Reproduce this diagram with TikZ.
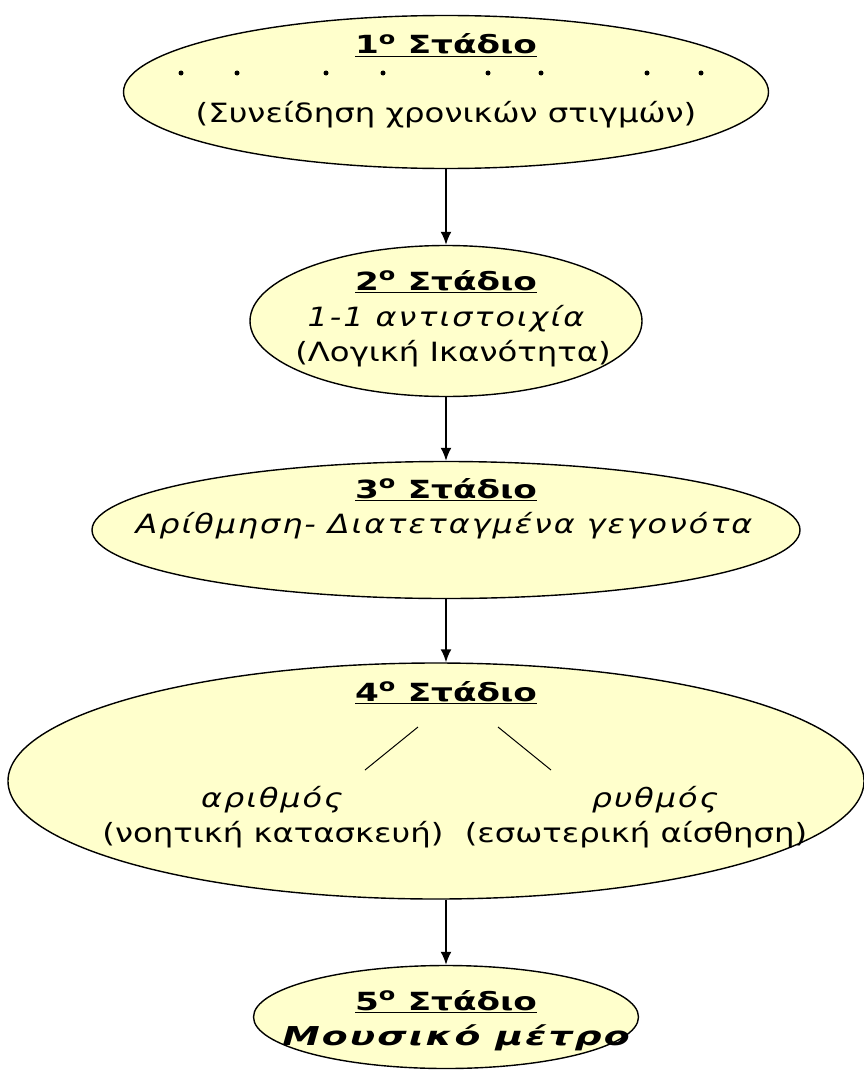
\documentclass[tikz,border=0pt]{standalone}
\usepackage{fontspec}
\setmainfont{DejaVu Sans}
\usetikzlibrary{arrows.meta,shapes.geometric}
\begin{document}
\begin{tikzpicture}[x=1pt,y=-1pt,
  stage/.style={ellipse,draw=black,line width=1.4pt,fill=stagefill,inner sep=0pt},
  ttl/.style={font=\fontsize{25}{28}\selectfont\bfseries\addfontfeature{FakeStretch=1.37},inner sep=0pt,anchor=base},
  txt/.style={font=\fontsize{26.5}{30}\selectfont\addfontfeature{FakeStretch=1.22},inner sep=0pt,anchor=base},
  itx/.style={font=\fontsize{26.5}{30}\selectfont\itshape\addfontfeature{FakeStretch=1.2,LetterSpace=7.5},inner sep=0pt,anchor=base},
  arr/.style={line width=2pt,-{Latex[length=13pt,width=11pt]}},
  dot/.style={circle,fill=black,inner sep=0pt,minimum size=5pt}]
\definecolor{stagefill}{RGB}{255,255,204}
\useasboundingbox (0,0) rectangle (864,1073);
% ellipses
\node[stage,minimum width=645,minimum height=153] (e1) at (446,92) {};
\node[stage,minimum width=392,minimum height=151] (e2) at (446,321) {};
\node[stage,minimum width=708,minimum height=137] (e3) at (446,530) {};
\node[stage,minimum width=856,minimum height=236] (e4) at (436,781) {};
\node[stage,minimum width=385,minimum height=103] (e5) at (446,1017) {};
% arrows
\draw[arr] (e1.south) -- (e2.north);
\draw[arr] (e2.south) -- (e3.north);
\draw[arr] (e3.south) -- (e3.south |- e4.north);
\draw[arr] (e4.south -| e5.north) -- (e5.north);
% stage 1
\node[ttl] (t1) at (446,54) {\underline{1\textsuperscript{ο} Στάδιο}};
\foreach \i/\x in {1/181,2/237,3/326,4/383,5/488,6/541,7/647,8/701}
  \node[dot] (d\i) at (\x,73) {};
\node[txt] (s1) at (446,122) {(Συνείδηση χρονικών στιγμών)};
% stage 2
\node[ttl] (t2) at (446,290) {\underline{2\textsuperscript{ο} Στάδιο}};
\node[itx] (s2a) at (446,326) {1-1 αντιστοιχία};
\node[txt] (s2b) at (453,361) {(Λογική Ικανότητα)};
% stage 3
\node[ttl] (t3) at (446,498) {\underline{3\textsuperscript{ο} Στάδιο}};
\node[itx] (s3) at (444,533) {Αρίθμηση- Διατεταγμένα γεγονότα};
% stage 4
\node[ttl] (t4) at (446,701) {\underline{4\textsuperscript{ο} Στάδιο}};
\coordinate (l1a) at (418,727); \coordinate (l1b) at (365,770);
\coordinate (l2a) at (498,727); \coordinate (l2b) at (551,770);
\draw[line width=1pt] (l1a) -- (l1b);
\draw[line width=1pt] (l2a) -- (l2b);
\node[itx] (a1) at (272,807) {αριθμός};
\node[txt] (a2) at (273,842) {(νοητική κατασκευή)};
\node[itx] (b1) at (655,807) {ρυθμός};
\node[txt] (b2) at (636,842) {(εσωτερική αίσθηση)};
% stage 5
\node[ttl] (t5) at (446,1010) {\underline{5\textsuperscript{ο} Στάδιο}};
\node[itx,font=\fontsize{26}{30}\selectfont\bfseries\itshape\addfontfeature{FakeStretch=1.45,LetterSpace=8}] (s5) at (456,1045) {Μουσικό μέτρο};
\end{tikzpicture}
\end{document}
